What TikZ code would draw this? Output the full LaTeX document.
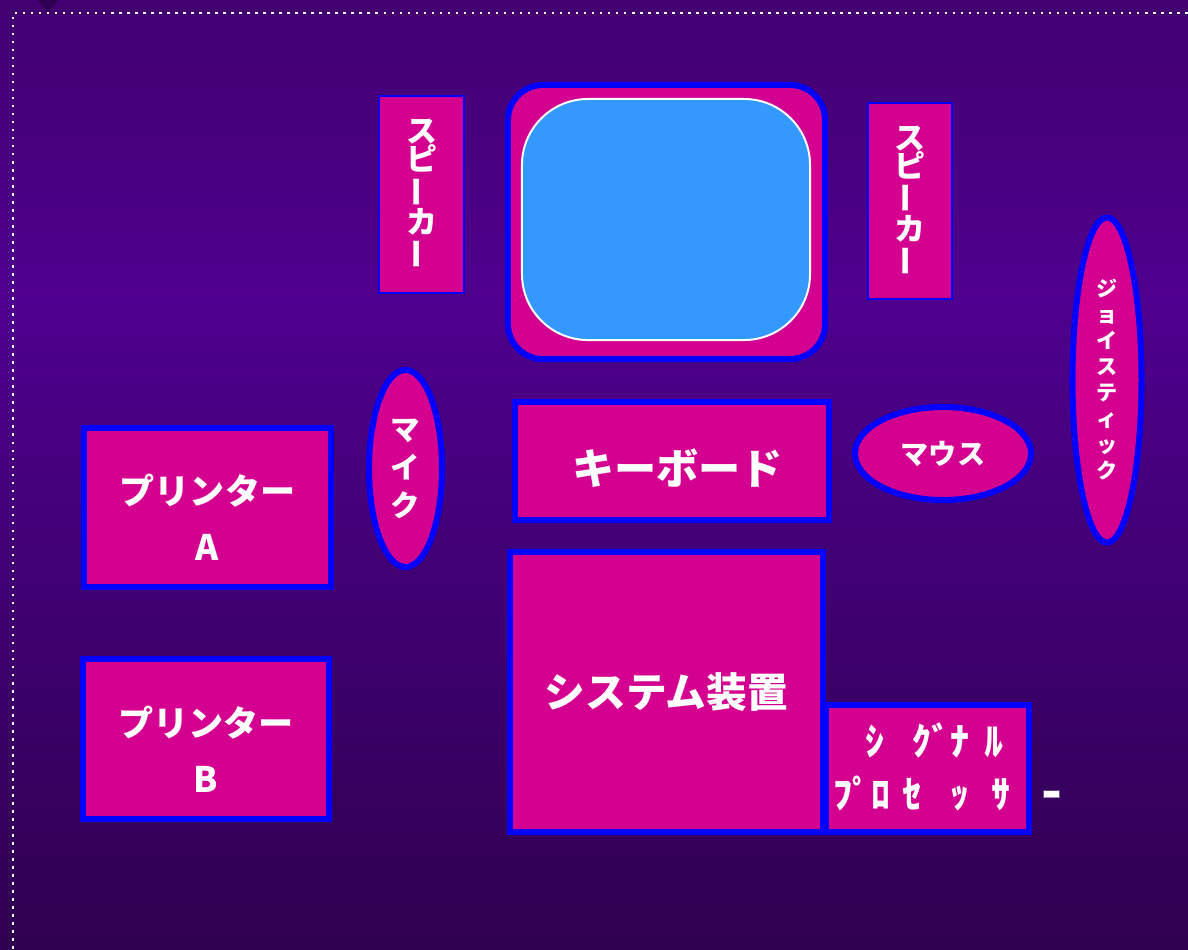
\documentclass[tikz,border=0pt]{standalone}
\usepackage{fontspec}
\setmainfont{Noto Sans CJK JP}
\usetikzlibrary{shapes.geometric}

\definecolor{bgtop}{HTML}{420070}
\definecolor{bgmid}{HTML}{4E008E}
\definecolor{bgbot}{HTML}{2F004F}
\definecolor{mag}{HTML}{D4008F}
\definecolor{scr}{HTML}{3399FF}
\newcommand{\tatebou}{\rotatebox[origin=c]{90}{ー}}

\begin{document}
\begin{tikzpicture}[
    x=0.025cm, y=-0.025cm,
    every node/.style={text=white, font=\bfseries},
    box/.style={draw=blue, fill=mag, line width=4.3pt},
    thinbox/.style={draw=blue, fill=mag, line width=1.4pt},
    oval/.style={ellipse, draw=blue, fill=mag, line width=4.3pt, inner sep=0pt}
  ]
    % 背景
    \useasboundingbox (0,0) rectangle (1188,949);
    \shade[top color=bgtop, bottom color=bgmid] (0,0) rectangle (1188,300);
    \shade[top color=bgmid, bottom color=bgbot] (0,300) rectangle (1188,949);
    \fill[bgbot] (38,0) -- (58,0) -- (48,13) -- cycle;
    \draw[white, line width=1.8pt, dash pattern=on 1.8pt off 3.9pt] (13,949) -- (13,13) -- (1188,13);

    % モニター
    \node[box, rounded corners=0.875cm, minimum width=7.925cm, minimum height=6.85cm] (monitor) at (666.5,222) {};
    \node[draw=white, fill=scr, line width=1.4pt, rounded corners=1.65cm, minimum width=7.2cm, minimum height=6.025cm] (screen) at (666,219.5) {};

    % スピーカー
    \node[thinbox, minimum width=2.125cm, minimum height=4.925cm, align=center,
      font=\bfseries\fontsize{22pt}{20pt}\selectfont] (spkL) at (421.5,194.5) {ス\\ピ\\\tatebou\\カ\\\tatebou};
    \node[thinbox, minimum width=2.1cm, minimum height=4.9cm, align=center,
      font=\bfseries\fontsize{22pt}{20pt}\selectfont] (spkR) at (910,201) {ス\\ピ\\\tatebou\\カ\\\tatebou};

    % 入力装置
    \node[oval, minimum width=1.725cm, minimum height=8.125cm, align=center,
      font=\bfseries\fontsize{15pt}{18.5pt}\selectfont] (joy) at (1107,380) {ジ\\ョ\\イ\\ス\\テ\\ィ\\ッ\\ク};
    \node[oval, minimum width=1.825cm, minimum height=4.925cm, align=center,
      font=\bfseries\fontsize{21pt}{27pt}\selectfont] (mic) at (405.5,468.5) {マ\\イ\\ク};
    \node[box, minimum width=7.85cm, minimum height=2.95cm,
      font=\bfseries\fontsize{30pt}{36pt}\selectfont] (kbd) at (672,461) {\hspace{8pt}\rule{0pt}{36pt}キーボード};
    \node[oval, minimum width=4.4cm, minimum height=2.325cm,
      font=\bfseries\fontsize{20pt}{24pt}\selectfont] (mouse) at (943,453.5) {マウス};

    % プリンター
    \node[box, minimum width=6.175cm, minimum height=3.975cm, align=center,
      font=\bfseries\fontsize{25pt}{40pt}\selectfont] (prnA) at (207.5,507.5) {\rule{0pt}{36pt}プリンター\\A};
    \node[box, minimum width=6.15cm, minimum height=4cm, align=center,
      font=\bfseries\fontsize{25pt}{40pt}\selectfont] (prnB) at (206,739) {\rule{0pt}{36pt}プリンター\\B};

    % 本体
    \node[box, minimum width=7.825cm, minimum height=7cm,
      font=\bfseries\fontsize{29pt}{34pt}\selectfont] (sys) at (666.5,692) {システム装置};
    \node[box, minimum width=5.075cm, minimum height=3.175cm] (dsp) at (927.5,768.5) {};
    \node[anchor=west, inner sep=0pt, font=\bfseries\fontsize{27pt}{32pt}\selectfont]
      (dsp1) at (865,740) {ｼ\hspace{20pt}ｸﾞﾅ\hspace{11pt}ﾙ};
    \node[anchor=west, inner sep=0pt, font=\bfseries\fontsize{27pt}{32pt}\selectfont]
      (dsp2) at (833,793) {ﾌﾟﾛ\hspace{9pt}ｾ\hspace{20pt}ｯ\hspace{16pt}ｻ\hspace{23pt}ｰ};

  \end{tikzpicture}
\end{document}
